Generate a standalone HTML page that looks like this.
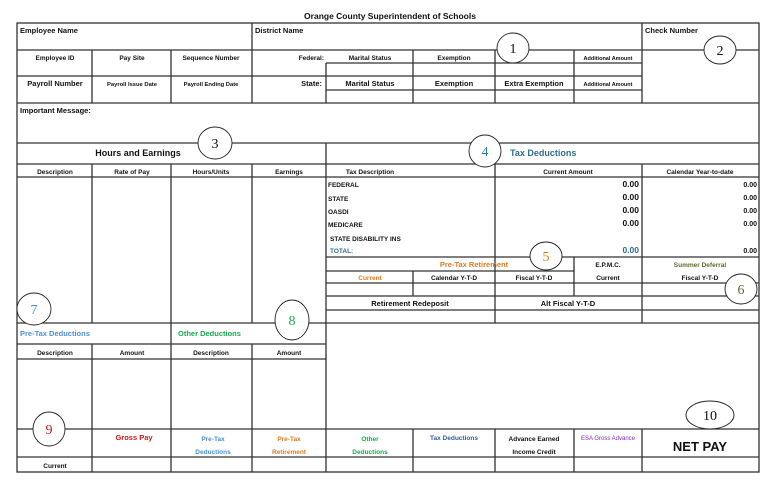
<!DOCTYPE html>
<html><head><meta charset="utf-8"><style>
html,body{margin:0;padding:0;background:#fff;width:768px;height:480px;overflow:hidden}
svg{display:block}
text{font-family:"Liberation Sans",sans-serif;font-weight:bold;font-size:6.5px;fill:#111}
.c{text-anchor:middle}.r{text-anchor:end}
text.amt{font-size:8.5px;text-anchor:end}
text.ytd{font-size:7px;text-anchor:end}
.n{font-family:"Liberation Serif",serif;font-weight:normal;font-size:14px;text-anchor:middle}
</style></head><body>
<svg width="768" height="480" viewBox="0 0 768 480">
<g stroke="#333" stroke-width="1.3" fill="none">
<rect x="17" y="23" width="742" height="449"/>
<line x1="252" y1="23" x2="252" y2="103"/>
<line x1="642" y1="23" x2="642" y2="103"/>
<line x1="17" y1="50" x2="759" y2="50"/>
<line x1="326" y1="63" x2="642" y2="63"/>
<line x1="17" y1="76" x2="642" y2="76"/>
<line x1="326" y1="90" x2="642" y2="90"/>
<line x1="17" y1="103" x2="759" y2="103"/>
<line x1="92" y1="50" x2="92" y2="103"/><line x1="171" y1="50" x2="171" y2="103"/>
<line x1="326" y1="63" x2="326" y2="103"/><line x1="413" y1="50" x2="413" y2="103"/>
<line x1="495" y1="50" x2="495" y2="103"/><line x1="574" y1="50" x2="574" y2="103"/>
<line x1="17" y1="143" x2="759" y2="143"/>
<line x1="17" y1="164" x2="759" y2="164"/>
<line x1="17" y1="177" x2="759" y2="177"/>
<line x1="326" y1="143" x2="326" y2="472"/>
<line x1="92" y1="164" x2="92" y2="323"/><line x1="171" y1="164" x2="171" y2="323"/><line x1="252" y1="164" x2="252" y2="323"/>
<line x1="495" y1="164" x2="495" y2="323"/><line x1="642" y1="164" x2="642" y2="323"/>
<line x1="326" y1="257" x2="759" y2="257"/>
<line x1="326" y1="271" x2="574" y2="271"/>
<line x1="574" y1="257" x2="574" y2="296"/><line x1="413" y1="271" x2="413" y2="296"/>
<line x1="326" y1="283" x2="759" y2="283"/>
<line x1="326" y1="296" x2="759" y2="296"/>
<line x1="326" y1="310" x2="759" y2="310"/>
<line x1="17" y1="323" x2="759" y2="323"/>
<line x1="17" y1="344" x2="326" y2="344"/>
<line x1="17" y1="359" x2="326" y2="359"/>
<line x1="171" y1="323" x2="171" y2="344"/>
<line x1="92" y1="344" x2="92" y2="472"/><line x1="171" y1="344" x2="171" y2="472"/><line x1="252" y1="344" x2="252" y2="472"/>
<line x1="17" y1="429" x2="759" y2="429"/>
<line x1="17" y1="457" x2="759" y2="457"/>
<line x1="413" y1="429" x2="413" y2="472"/><line x1="495" y1="429" x2="495" y2="472"/>
<line x1="574" y1="429" x2="574" y2="472"/><line x1="642" y1="429" x2="642" y2="472"/>
</g>
<text x="390" y="19" class="c" style="font-size:8.5px">Orange County Superintendent of Schools</text>
<text x="20" y="33" style="font-size:7.5px">Employee Name</text>
<text x="255" y="33" style="font-size:7.5px">District Name</text>
<text x="645" y="33" style="font-size:7.5px">Check Number</text>
<text x="55" y="60" class="c">Employee ID</text>
<text x="132" y="60" class="c">Pay Site</text>
<text x="211" y="60" class="c">Sequence Number</text>
<text x="324" y="60" class="r">Federal:</text>
<text x="370" y="60" class="c">Marital Status</text>
<text x="454" y="60" class="c">Exemption</text>
<text x="608" y="60" class="c" style="font-size:5.5px">Additional Amount</text>
<text x="55" y="86" class="c" style="font-size:7.5px">Payroll Number</text>
<text x="132" y="86" class="c" style="font-size:5.8px">Payroll Issue Date</text>
<text x="211" y="86" class="c" style="font-size:5.8px">Payroll Ending Date</text>
<text x="322" y="86" class="r" style="font-size:7.5px">State:</text>
<text x="370" y="86" class="c" style="font-size:7.5px">Marital Status</text>
<text x="454" y="86" class="c" style="font-size:7.5px">Exemption</text>
<text x="534" y="86" class="c" style="font-size:7.5px">Extra Exemption</text>
<text x="608" y="86" class="c" style="font-size:5.5px">Additional Amount</text>
<text x="20" y="113" style="font-size:7.5px">Important Message:</text>
<text x="138" y="156" class="c" style="font-size:9px">Hours and Earnings</text>
<text x="510" y="156" style="font-size:9px;fill:#2e6e8a">Tax Deductions</text>
<text x="55" y="174" class="c">Description</text><text x="132" y="174" class="c">Rate of Pay</text>
<text x="211" y="174" class="c">Hours/Units</text><text x="289" y="174" class="c">Earnings</text>
<text x="370" y="174" class="c">Tax Description</text><text x="568" y="174" class="c">Current Amount</text>
<text x="700" y="174" class="c">Calendar Year-to-date</text>
<text x="328" y="187">FEDERAL</text><text x="328" y="201">STATE</text><text x="328" y="214">OASDI</text>
<text x="328" y="227">MEDICARE</text><text x="330" y="241">STATE DISABILITY INS</text>
<text x="330" y="253" style="fill:#2e6e8a">TOTAL:</text>
<text class="amt" x="639" y="187">0.00</text><text class="amt" x="639" y="200">0.00</text><text class="amt" x="639" y="213">0.00</text><text class="amt" x="639" y="226">0.00</text><text class="amt" x="639" y="253" style="fill:#2e6e8a">0.00</text>
<text class="ytd" x="757" y="187">0.00</text><text class="ytd" x="757" y="200">0.00</text><text class="ytd" x="757" y="213">0.00</text><text class="ytd" x="757" y="226">0.00</text><text class="ytd" x="757" y="253">0.00</text>
<text x="474" y="267" class="c" style="font-size:7.5px;fill:#e07a1e">Pre-Tax Retirement</text>
<text x="608" y="267" class="c">E.P.M.C.</text>
<text x="700" y="267" class="c" style="fill:#5a6a2e">Summer Deferral</text>
<text x="370" y="280" class="c" style="fill:#e07a1e">Current</text>
<text x="454" y="280" class="c">Calendar Y-T-D</text><text x="534" y="280" class="c">Fiscal Y-T-D</text>
<text x="608" y="280" class="c">Current</text><text x="700" y="280" class="c">Fiscal Y-T-D</text>
<text x="410" y="306" class="c" style="font-size:7.5px">Retirement Redeposit</text>
<text x="568" y="306" class="c" style="font-size:7.5px">Alt Fiscal Y-T-D</text>
<text x="20" y="336" style="font-size:7.5px;fill:#4a8fd8">Pre-Tax Deductions</text>
<text x="178" y="336" style="font-size:7.5px;fill:#1aa84a">Other Deductions</text>
<text x="55" y="355" class="c">Description</text><text x="132" y="355" class="c">Amount</text>
<text x="211" y="355" class="c">Description</text><text x="289" y="355" class="c">Amount</text>
<text x="134" y="440" class="c" style="font-size:7.5px;fill:#c41818">Gross Pay</text>
<text x="213" y="441" class="c" style="fill:#4a8fd8">Pre-Tax</text><text x="213" y="454" class="c" style="fill:#4a8fd8">Deductions</text>
<text x="289" y="441" class="c" style="fill:#e07a1e">Pre-Tax</text><text x="289" y="454" class="c" style="fill:#e07a1e">Retirement</text>
<text x="370" y="441" class="c" style="fill:#1aa84a">Other</text><text x="370" y="454" class="c" style="fill:#1aa84a">Deductions</text>
<text x="454" y="440" class="c" style="fill:#2e5e9a">Tax Deductions</text>
<text x="534" y="441" class="c">Advance Earned</text><text x="534" y="454" class="c">Income Credit</text>
<text x="608" y="440" class="c" style="font-size:6px;fill:#8a2ab0;font-weight:normal">ESA Gross Advance</text>
<text x="700" y="451" class="c" style="font-size:13px">NET PAY</text>
<text x="55" y="468" class="c">Current</text>
<g fill="#fff" stroke="#222" stroke-width="0.9">
<ellipse cx="513" cy="48" rx="16" ry="15"/><ellipse cx="720" cy="50" rx="16" ry="14"/>
<ellipse cx="215" cy="143" rx="17" ry="16"/><ellipse cx="485" cy="151" rx="16" ry="16"/>
<ellipse cx="546" cy="256" rx="16" ry="14"/><ellipse cx="741" cy="289" rx="16" ry="15"/>
<ellipse cx="34" cy="309" rx="17" ry="16"/><ellipse cx="292" cy="320" rx="17" ry="20"/>
<ellipse cx="49" cy="429" rx="16" ry="17"/><ellipse cx="710" cy="415" rx="24" ry="14"/>
</g>
<text class="n" x="513" y="53">1</text><text class="n" x="720" y="55">2</text>
<text class="n" x="215" y="148">3</text><text class="n" x="485" y="156" style="fill:#2e7e9a">4</text>
<text class="n" x="546" y="261" style="fill:#e07a1e">5</text><text class="n" x="741" y="294" style="fill:#5a6a2e">6</text>
<text class="n" x="34" y="314" style="fill:#4a8fd8">7</text><text class="n" x="292" y="325" style="fill:#1aa84a">8</text>
<text class="n" x="49" y="434" style="fill:#c41818">9</text><text class="n" x="710" y="420">10</text>
</svg>
</body></html>
